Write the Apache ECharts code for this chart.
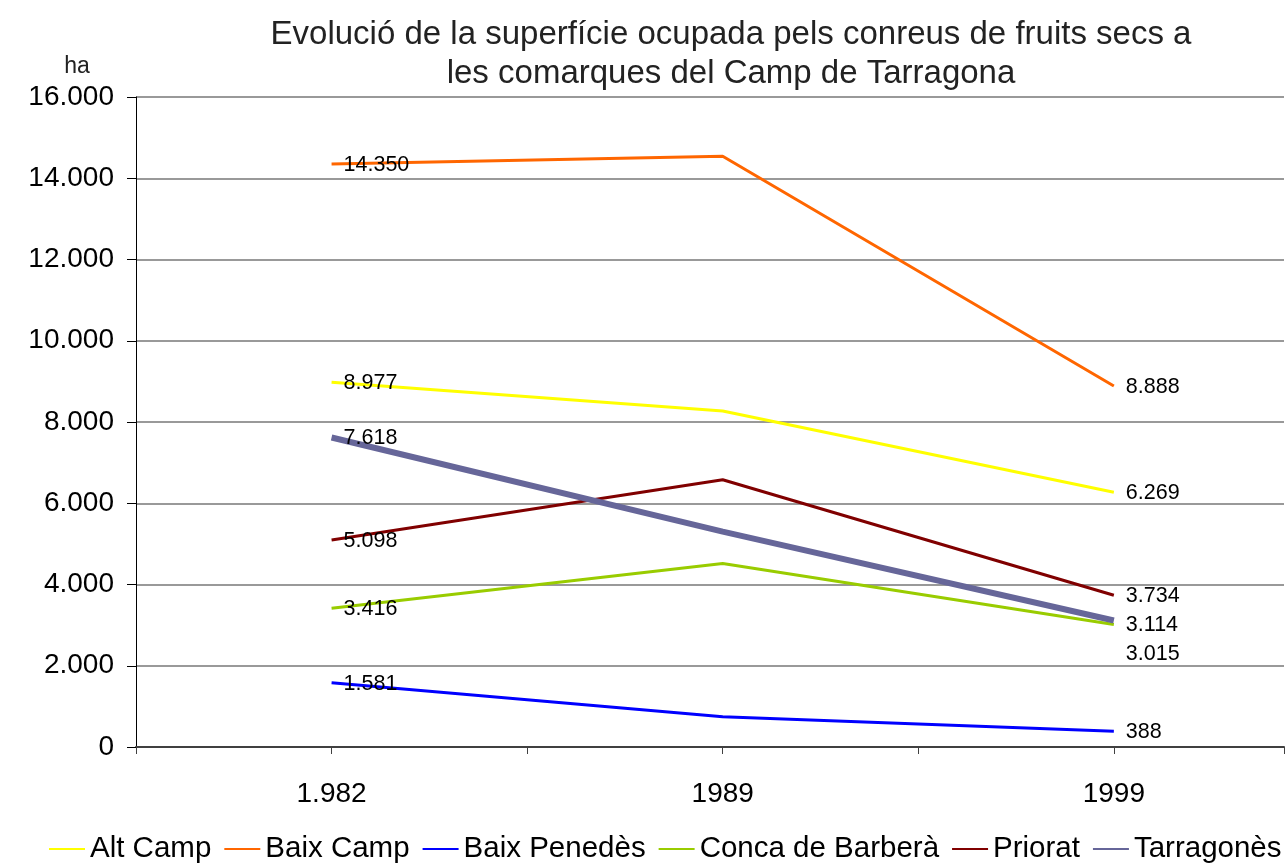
<!DOCTYPE html>
<html>
<head>
<meta charset="utf-8">
<script src="https://cdn.jsdelivr.net/npm/echarts@6/dist/echarts.min.js"></script>
<style>
  html, body { margin: 0; padding: 0; background: #fff; }
  #chart { width: 1287px; height: 866px; }
</style>
</head>
<body>
<div id="chart"></div>
<script>
// ---- data ----
const categories = ['1.982', '1989', '1999'];
const seriesNames = ['Alt Camp', 'Baix Camp', 'Baix Penedès', 'Conca de Barberà', 'Priorat', 'Tarragonès'];
const altCamp = [8977, 8270, 6269];
const baixCamp = [14350, 14540, 8888];
const baixPenedes = [1581, 745, 388];
const concaBarbera = [3416, 4515, 3015];
const priorat = [5098, 6580, 3734];
const tarragones = [7618, 5300, 3114];
const yTicks = [0, 2000, 4000, 6000, 8000, 10000, 12000, 14000, 16000];
const titleText = 'Evolució de la superfície ocupada pels conreus de fruits secs a\nles comarques del Camp de Tarragona';
const yUnit = 'ha';

// ---- styling ----
const FONT = '"Liberation Sans", Arial, sans-serif';
const colors = ['#FFFF00', '#FF6600', '#0000FF', '#99CC00', '#800000', '#666699'];
const widths = [3, 3, 3, 3, 3, 6];
const values = [altCamp, baixCamp, baixPenedes, concaBarbera, priorat, tarragones];
// extra downward nudge of end labels to avoid overlaps (series index -> px)
const endLabelNudge = { 3: 30, 5: 5 };

function fmt(v) {
  return String(Math.round(v)).replace(/\B(?=(\d{3})+(?!\d))/g, '.');
}

const series = seriesNames.map((name, s) => ({
  name: name,
  type: 'line',
  symbol: 'circle',
  symbolSize: 0,
  showSymbol: true,
  showAllSymbol: true,
  color: colors[s],
  itemStyle: { color: colors[s] },
  lineStyle: { color: colors[s], width: widths[s] },
  z: s === 5 ? 3 : 2,
  label: {
    show: true,
    position: 'right',
    distance: 12,
    fontFamily: FONT,
    fontSize: 21.5,
    color: '#000',
    formatter: p => fmt(p.value[1])
  },
  emphasis: { disabled: true },
  data: values[s].map((v, i) => ({
    value: [2 * i + 1, v],
    label: {
      show: i !== 1,
      offset: (i === 2 && endLabelNudge[s]) ? [0, endLabelNudge[s]] : [0, 1]
    }
  }))
}));

const chart = echarts.init(document.getElementById('chart'), null, { renderer: 'canvas' });
chart.setOption({
  animation: false,
  backgroundColor: '#fff',
  graphic: [
    {
      type: 'text', x: 731, y: 15,
      style: {
        text: titleText, fontFamily: FONT, fontSize: 33, fill: '#222',
        align: 'center', verticalAlign: 'top', lineHeight: 39
      }
    },
    {
      type: 'text', x: 77, y: 67,
      style: {
        text: yUnit, fontFamily: FONT, fontSize: 23, fill: '#222',
        align: 'center', verticalAlign: 'middle'
      }
    }
  ],
  grid: { left: 136, top: 97, right: 0, height: 650, containLabel: false },
  legend: {
    left: 48, top: 834, padding: 0,
    itemWidth: 36, itemHeight: 14, itemGap: 12,
    itemStyle: { opacity: 0 },
    textStyle: { fontFamily: FONT, fontSize: 29.5, color: '#000' },
    data: seriesNames
  },
  xAxis: {
    type: 'value', min: 0, max: 5.87, interval: 1,
    axisLine: { show: true, lineStyle: { color: '#404040', width: 2 } },
    axisTick: { show: true, length: 7, lineStyle: { color: '#404040', width: 1 } },
    splitLine: { show: false },
    axisLabel: {
      margin: 33, fontFamily: FONT, fontSize: 28, color: '#000',
      formatter: v => (Number.isInteger(v) && v % 2 === 1 ? categories[(v - 1) / 2] : '')
    }
  },
  yAxis: {
    type: 'value', min: yTicks[0], max: yTicks[yTicks.length - 1], interval: yTicks[1] - yTicks[0],
    axisLine: { show: true, lineStyle: { color: '#000', width: 1 } },
    axisTick: { show: true, length: 9, lineStyle: { color: '#000' } },
    splitLine: { show: true, lineStyle: { color: '#777', width: 1.5 } },
    axisLabel: { margin: 22, fontFamily: FONT, fontSize: 28, color: '#000', formatter: v => fmt(v) }
  },
  series: series
});
</script>
</body>
</html>
